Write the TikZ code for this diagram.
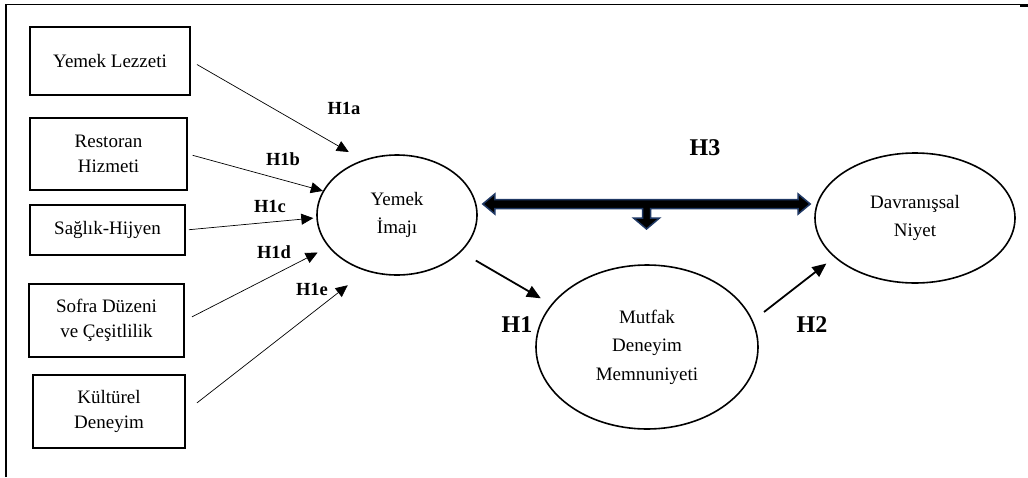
\documentclass[tikz,border=0pt]{standalone}
\usepackage{fontspec}
\setmainfont{Liberation Serif}
\usepackage{tikz}
\usetikzlibrary{arrows.meta, calc, shapes.geometric}
\definecolor{lacivert}{HTML}{1F3864}

\begin{document}
\begin{tikzpicture}[x=1pt, y=-1pt,
    kutu/.style={draw, line width=1.8pt, align=center, inner sep=0pt,
        font=\fontsize{19}{25}\selectfont},
    elips/.style={draw, ellipse, line width=1.6pt, align=center, inner sep=0pt,
        font=\fontsize{19}{28.5}\selectfont},
    ince/.style={-{Triangle[length=12pt, width=11pt]}, line width=0.7pt},
    kalin/.style={-{Triangle[length=14pt, width=12pt]}, line width=1.8pt},
    hkucuk/.style={font=\fontsize{18.5}{22}\selectfont\bfseries},
    hbuyuk/.style={font=\fontsize{24}{28}\selectfont\bfseries}]
    \useasboundingbox (0,0) rectangle (1028,477);

    % çerçeve
    \draw[line width=1.5pt] (6,477) -- (6,4.5) -- (1020,4.5);
    \draw[line width=2.5pt] (1020,5.5) -- (1028,5.5);

    % sol kutular
    \node[kutu, minimum width=160, minimum height=68] (lezzet) at (110,61) {Yemek Lezzeti};
    \node[kutu, minimum width=157, minimum height=72] (hizmet) at (108.5,154) {Restoran\\Hizmeti};
    \node[kutu, minimum width=155, minimum height=50] (hijyen) at (107.5,230) {Sağlık-Hijyen};
    \node[kutu, minimum width=155, minimum height=73] (sofra) at (106.5,320.5) {Sofra Düzeni\\ve Çeşitlilik};
    \node[kutu, minimum width=152, minimum height=73] (kultur) at (109,411.5) {Kültürel\\Deneyim};

    % elipsler
    \node[elips, minimum width=160, minimum height=120] (imaj) at (397,215) {Yemek\\İmajı};
    \node[elips, minimum width=222, minimum height=164] (mutfak) at (647,347) {Mutfak\\Deneyim\\Memnuniyeti};
    \node[elips, minimum width=200, minimum height=130] (niyet) at (915,218) {Davranışsal\\Niyet};

    % H1a--H1e
    \draw[ince, shorten <=7pt, shorten >=16pt] (lezzet.east) -- (imaj.122);
    \draw[ince, shorten <=5pt] (hizmet.east) -- (imaj.162);
    \draw[ince, shorten <=3pt, shorten >=3pt] (hijyen.east) -- (imaj.182);
    \draw[ince, shorten <=8pt, shorten >=12pt] (sofra.east) -- (imaj.205);
    \draw[ince, shorten <=14pt, shorten >=23pt] (kultur.east) -- (imaj.241);

    \node[hkucuk] (h1a) at (344,108) {H1a};
    \node[hkucuk] (h1b) at (283,159) {H1b};
    \node[hkucuk] (h1c) at (270,206) {H1c};
    \node[hkucuk] (h1d) at (274,252) {H1d};
    \node[hkucuk] (h1e) at (312,289) {H1e};

    % H1, H2
    \draw[kalin, shorten <=17pt, shorten >=12pt] (imaj.-30) -- (mutfak.156);
    \draw[kalin, shorten <=14pt, shorten >=10pt] (mutfak.14) -- (niyet.206);

    \node[hbuyuk] (h1) at (517,325) {H1};
    \node[hbuyuk] (h2) at (812,325) {H2};
    \node[hbuyuk] (h3) at (705,148) {H3};

    % H3 blok ok
    \coordinate (h3l) at ($(imaj.east)+(5,-11)$);
    \coordinate (h3r) at ($(niyet.west)+(-4,-14)$);
    \coordinate (h3m) at ($(h3l)!0.5!(h3r)$);
    \draw[lacivert, line width=1.5pt, fill=black, line join=miter]
        (h3l) -- ++(12,-10) -- ++(0,5.5) -- ($(h3r)+(-12,-4.5)$) -- ++(0,-5.5)
        -- (h3r) -- ++(-12,10) -- ++(0,-5.5) -- ($(h3m)+(4,4.5)$) -- ++(0,9.5)
        -- ++(9,0) -- ++(-13,11) -- ++(-13,-11) -- ++(9,0) -- ++(0,-9.5)
        -- ($(h3l)+(12,4.5)$) -- ++(0,5.5) -- cycle;
\end{tikzpicture}
\end{document}
